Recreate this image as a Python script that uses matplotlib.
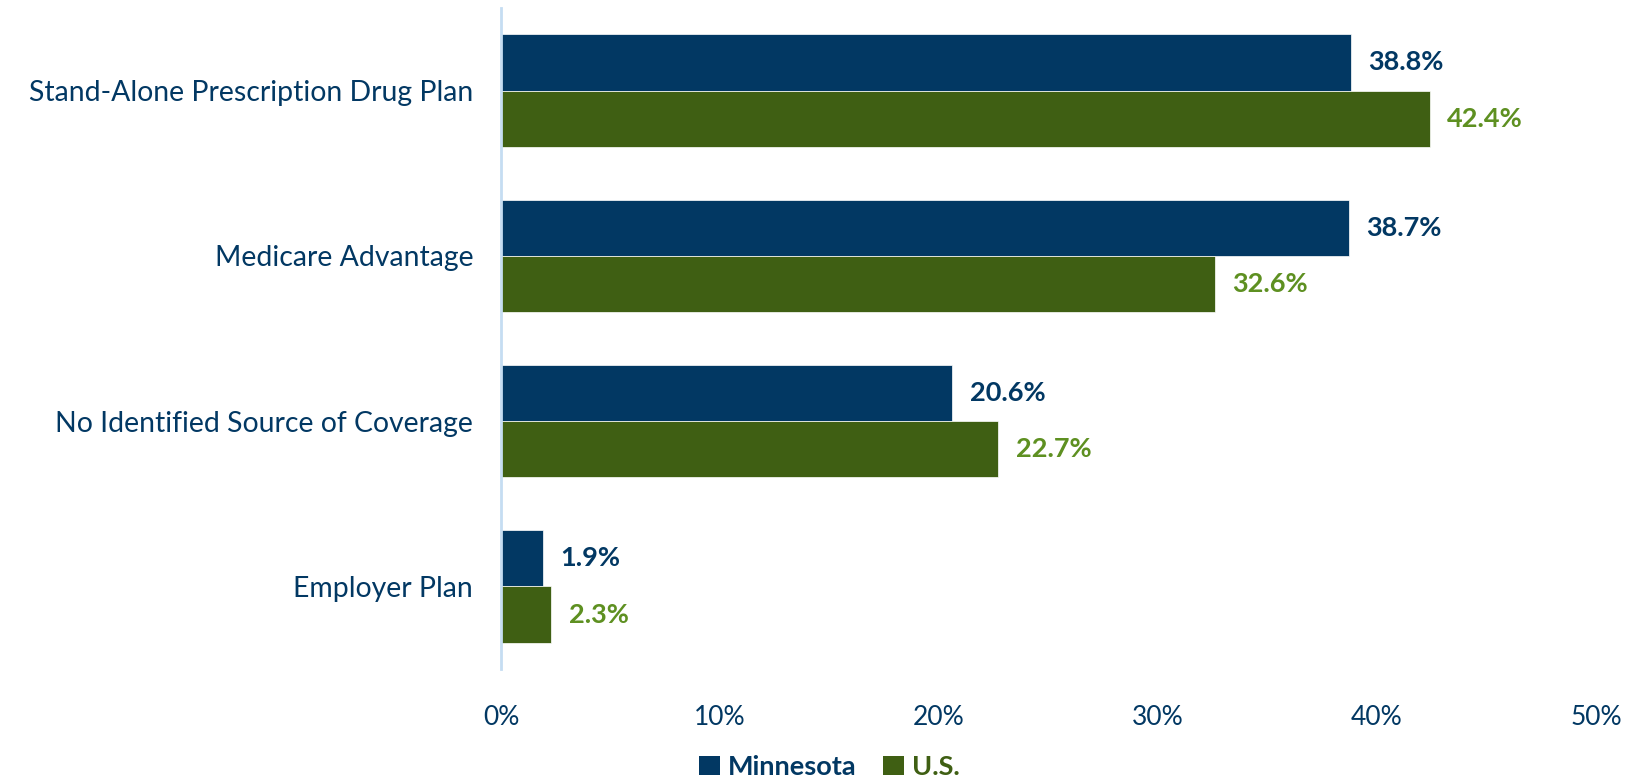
import matplotlib
matplotlib.use("Agg")
import matplotlib.pyplot as plt
from matplotlib.patches import Patch
import numpy as np

categories = ["Stand-Alone Prescription Drug Plan", "Medicare Advantage",
              "No Identified Source of Coverage", "Employer Plan"]
minnesota = [38.8, 38.7, 20.6, 1.9]
us = [42.4, 32.6, 22.7, 2.3]
series_names = ["Minnesota", "U.S."]
xticks = [0, 10, 20, 30, 40, 50]

NAVY = "#023863"
GREEN = "#3F5F13"
GREEN_TEXT = "#5E9021"
AXIS_BLUE = "#C5DDF2"

plt.rcParams["font.family"] = ["Lato", "DejaVu Sans"]

W, H = 1636, 783
fig = plt.figure(figsize=(W / 100, H / 100), dpi=100)
ax = fig.add_axes([501 / W, 1 - 669 / H, (1596 - 501) / W, (669 - 8) / H])

n = len(categories)
y = np.arange(n)
bh = 0.341
ax.barh(y - bh / 2, minnesota, height=bh, color=NAVY, edgecolor="white", linewidth=0.5)
ax.barh(y + bh / 2, us, height=bh, color=GREEN, edgecolor="white", linewidth=0.5)

for i in range(n):
    ax.text(minnesota[i] + 0.8, y[i] - bh / 2, f"{minnesota[i]:.1f}%", va="center", ha="left",
            fontsize=19.5, fontweight="bold", color=NAVY)
    ax.text(us[i] + 0.8, y[i] + bh / 2, f"{us[i]:.1f}%", va="center", ha="left",
            fontsize=19.5, fontweight="bold", color=GREEN_TEXT)

ax.set_ylim(n - 0.5, -0.5)
ax.set_xlim(0, 50)
ax.set_yticks(y)
ax.set_yticklabels(categories, fontsize=20.4, color=NAVY)
ax.set_xticks(xticks)
ax.set_xticklabels([f"{t}%" for t in xticks], fontsize=19, color=NAVY)
ax.tick_params(axis="y", length=0, pad=20)
ax.tick_params(axis="x", length=0, pad=26)

for s in ["top", "right", "bottom"]:
    ax.spines[s].set_visible(False)
ax.spines["left"].set_color(AXIS_BLUE)
ax.spines["left"].set_linewidth(2)

handles = [Patch(facecolor=NAVY), Patch(facecolor=GREEN)]
leg = fig.legend(handles, series_names, loc="lower center", bbox_to_anchor=(0.507, -0.026),
                 ncol=2, frameon=False, fontsize=19.5, handlelength=0.75, handleheight=0.75,
                 handletextpad=0.3, columnspacing=1.0)
for txt, c in zip(leg.get_texts(), [NAVY, GREEN]):
    txt.set_color(c)
    txt.set_fontweight("bold")

fig.savefig("out.png", dpi=100)
